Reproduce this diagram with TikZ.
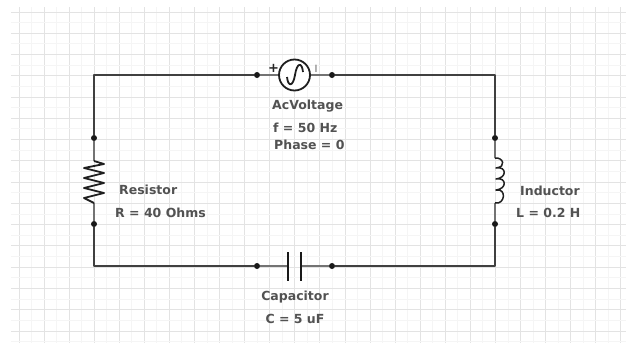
\documentclass[tikz,border=0pt]{standalone}
\usepackage{fontspec}
\setmainfont{DejaVu Sans}
\usetikzlibrary{positioning}
\tikzset{
  gridmajor/.style={draw=black!11,line width=1.4pt},
  gridminor/.style={draw=black!4,line width=1.4pt},
  wire/.style={draw=black!75,line width=1.9pt},
  lead/.style={draw=black!55,line width=1.3pt},
  symbol/.style={draw=black!88,line width=1.8pt,line join=round},
  plate/.style={draw=black!90,line width=2.4pt},
  terminal/.style={circle,fill=black!90,inner sep=0pt,minimum size=6pt},
  label/.style={font=\bfseries\fontsize{12.5}{14}\selectfont,text=black!68,inner sep=0pt},
}
\begin{document}
\begin{tikzpicture}[x=1pt,y=-1pt,line join=bevel]
    \useasboundingbox (0,0) rectangle (626,343);
    \fill[white] (0,0) rectangle (626,343);
    %% grid
    \foreach \i in {0,...,24} {
        \draw[gridminor] ({int(31.5+25.08*\i)+0.5},7) -- ({int(31.5+25.08*\i)+0.5},343);
        \draw[gridmajor] ({int(19+25.08*\i)+0.5},7) -- ({int(19+25.08*\i)+0.5},343);
    }
    \foreach \j in {0,...,15} {
        \draw[gridminor] (11,{int(22.6+21.27*\j)+0.5}) -- (626,{int(22.6+21.27*\j)+0.5});
        \draw[gridmajor] (11,{int(12+21.27*\j)+0.5}) -- (626,{int(12+21.27*\j)+0.5});
    }
    %% terminals
    \node (acl) at (257,75) [terminal] {};
    \node (acr) at (332,75) [terminal] {};
    \node (rt) at (94,138) [terminal] {};
    \node (rb) at (94,224) [terminal] {};
    \node (lt) at (495,138) [terminal] {};
    \node (lb) at (495,224) [terminal] {};
    \node (cl) at (257,266) [terminal] {};
    \node (cr) at (332,266) [terminal] {};
    \coordinate (tl) at (94,75);
    \coordinate (tr) at (495,75);
    \coordinate (bl) at (94,266);
    \coordinate (br) at (495,266);
    %% wires
    \draw[wire] (acl) -- (tl) -- (rt);
    \draw[wire] (rb) -- (bl) -- (cl);
    \draw[wire] (cr) -- (br) -- (lb);
    \draw[wire] (lt) -- (tr) -- (acr);
    %% source
    \node (ac) at (294.5,75) [circle,draw=black!88,line width=1.8pt,fill=white,minimum size=31pt,inner sep=0pt] {};
    \draw[lead] (acl) -- (ac);
    \draw[lead] (ac) -- (acr);
    \draw[symbol] (287,77) .. controls (288,87) and (293,87) .. (295,75)
        .. controls (297,62) and (302,62) .. (303,72);
    \node (plus) at (273.5,68.5) [font=\bfseries\fontsize{13}{13}\selectfont,text=black!85,inner sep=0pt] {+};
    \node (minus) at (316,68.5) [font=\fontsize{10}{10}\selectfont,text=black!60,inner sep=0pt] {I};
    %% resistor
    \coordinate (r1) at (94,161);
    \coordinate (r2) at (94,203);
    \draw[lead] (rt) -- (r1);
    \draw[lead] (r2) -- (rb);
    \draw[symbol] (r1) -- (104,164) -- (84,168) -- (104,173) -- (84,178) -- (104,183)
        -- (84,188) -- (104,193) -- (84,198) -- (r2);
    %% inductor
    \coordinate (l1) at (495,158);
    \coordinate (l2) at (495,203);
    \draw[lead] (lt) -- (l1);
    \draw[lead] (l2) -- (lb);
    \draw[symbol,line width=1.5pt] (l1) .. controls (503,157) and (507,167) .. (496,168)
        .. controls (507,166) and (507,178) .. (496,179)
        .. controls (507,177) and (507,189) .. (496,190)
        .. controls (507,188) and (505,205) .. (l2);
    %% capacitor
    \coordinate (c1a) at (288,252);
    \coordinate (c1b) at (288,281);
    \coordinate (c2a) at (301,252);
    \coordinate (c2b) at (301,281);
    \draw[lead] (cl) -- (288,266);
    \draw[lead] (301,266) -- (cr);
    \draw[plate] (c1a) -- (c1b);
    \draw[plate] (c2a) -- (c2b);
    %% labels
    \node (acname) at (272,105.7) [label,anchor=west] {AcVoltage};
    \node (acfreq) at (273,127.7) [label,anchor=west] {f = 50 Hz};
    \node (acphase) at (274,144.7) [label,anchor=west] {Phase = 0};
    \node (rname) at (119,189.7) [label,anchor=west] {Resistor};
    \node (rval) at (115,212.7) [label,anchor=west] {R = 40 Ohms};
    \node (lname) at (520,190.7) [label,anchor=west] {Inductor};
    \node (lval) at (516,212.7) [label,anchor=west] {L = 0.2 H};
    \node (cname) at (295,296.7) [label] {Capacitor};
    \node (cval) at (295,318.7) [label] {C = 5 uF};
    %
\end{tikzpicture}
\end{document}
